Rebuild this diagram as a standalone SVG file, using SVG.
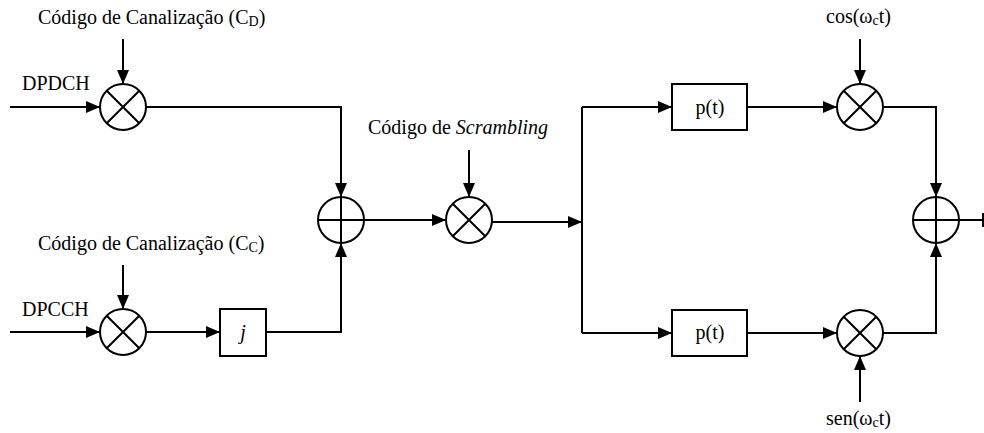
<svg xmlns="http://www.w3.org/2000/svg" width="984" height="433" viewBox="0 0 984 433">
<style>
.l{fill:none;stroke:#000;stroke-width:2}
.n{fill:#fff;stroke:#000;stroke-width:2}
.t{font-family:"Liberation Serif","Times New Roman",serif;font-size:20px;fill:#000}
.s{font-size:14px}
</style>
<defs>
<marker id="a" markerWidth="14" markerHeight="12" refX="14" refY="6" orient="auto" markerUnits="userSpaceOnUse">
<path d="M0,0 L14,6 L0,12 Z" fill="#000"/>
</marker>
</defs>
<rect width="984" height="433" fill="#fff"/>
<g id="connectors">
<path class="l" d="M10,107 H100" marker-end="url(#a)"/>
<path class="l" d="M123,39 V84" marker-end="url(#a)"/>
<path class="l" d="M146,107 H341 V197" marker-end="url(#a)"/>
<path class="l" d="M10,332 H100" marker-end="url(#a)"/>
<path class="l" d="M123,265 V309" marker-end="url(#a)"/>
<path class="l" d="M146,332 H220" marker-end="url(#a)"/>
<path class="l" d="M266,332 H341 V243" marker-end="url(#a)"/>
<path class="l" d="M364,220 H446" marker-end="url(#a)"/>
<path class="l" d="M469,150 V197" marker-end="url(#a)"/>
<path class="l" d="M492,222 H582" marker-end="url(#a)"/>
<path class="l" d="M582,107 V333"/>
<path class="l" d="M582,107 H672" marker-end="url(#a)"/>
<path class="l" d="M582,333 H672" marker-end="url(#a)"/>
<path class="l" d="M747,107 H837" marker-end="url(#a)"/>
<path class="l" d="M747,333 H837" marker-end="url(#a)"/>
<path class="l" d="M860,39 V84" marker-end="url(#a)"/>
<path class="l" d="M860,402 V356" marker-end="url(#a)"/>
<path class="l" d="M883,107 H936 V197" marker-end="url(#a)"/>
<path class="l" d="M883,333 H936 V243" marker-end="url(#a)"/>
<path class="l" d="M959,220 H983 M983,213 V227"/>
</g>
<g id="mult1">
<circle class="n" cx="123" cy="107" r="23"/>
<path class="l" d="M106.7,90.7 L139.3,123.3 M139.3,90.7 L106.7,123.3"/>
</g>
<g id="mult2">
<circle class="n" cx="123" cy="332" r="23"/>
<path class="l" d="M106.7,315.7 L139.3,348.3 M139.3,315.7 L106.7,348.3"/>
</g>
<g id="jbox">
<rect class="n" x="220" y="309" width="46" height="47"/>
<text class="t" x="243" y="339" text-anchor="middle" font-style="italic">j</text>
</g>
<g id="adder1">
<circle class="n" cx="341" cy="220" r="23"/>
<path class="l" d="M318,220 H364 M341,197 V243"/>
</g>
<g id="scrambler">
<circle class="n" cx="469" cy="220" r="23"/>
<path class="l" d="M452.7,203.7 L485.3,236.3 M485.3,203.7 L452.7,236.3"/>
</g>
<g id="pt1">
<rect class="n" x="672" y="84" width="75" height="46"/>
<text class="t" x="710" y="114" text-anchor="middle">p(t)</text>
</g>
<g id="pt2">
<rect class="n" x="672" y="310" width="75" height="46"/>
<text class="t" x="710" y="339" text-anchor="middle">p(t)</text>
</g>
<g id="mult_cos">
<circle class="n" cx="860" cy="107" r="23"/>
<path class="l" d="M843.7,90.7 L876.3,123.3 M876.3,90.7 L843.7,123.3"/>
</g>
<g id="mult_sen">
<circle class="n" cx="860" cy="333" r="23"/>
<path class="l" d="M843.7,316.7 L876.3,349.3 M876.3,316.7 L843.7,349.3"/>
</g>
<g id="adder2">
<circle class="n" cx="936" cy="220" r="23"/>
<path class="l" d="M913,220 H959 M936,197 V243"/>
</g>
<g id="labels">
<text class="t" x="38" y="24">Código de Canalização (C<tspan class="s" dy="2">D</tspan><tspan dy="-2">)</tspan></text>
<text class="t" x="22" y="90">DPDCH</text>
<text class="t" x="38" y="250">Código de Canalização (C<tspan class="s" dy="2">C</tspan><tspan dy="-2">)</tspan></text>
<text class="t" x="22" y="316">DPCCH</text>
<text class="t" x="368" y="134">Código de <tspan font-style="italic">Scrambling</tspan></text>
<text class="t" x="826" y="23">cos(ω<tspan class="s" dy="2">c</tspan><tspan dy="-2">t)</tspan></text>
<text class="t" x="826" y="425">sen(ω<tspan class="s" dy="2">c</tspan><tspan dy="-2">t)</tspan></text>
</g>
</svg>
